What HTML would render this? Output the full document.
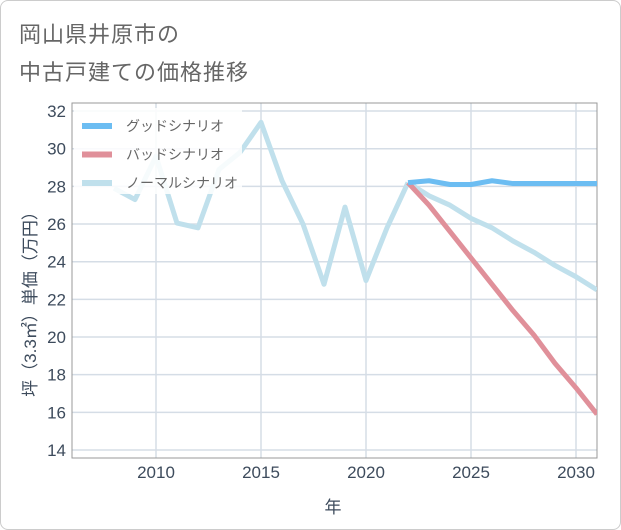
<!DOCTYPE html>
<html><head><meta charset="utf-8"><style>
body{margin:0;background:#fff;}
#wrap{position:relative;width:619px;height:528px;border:1px solid #ccc;border-radius:8px;overflow:hidden;background:#fff;font-family:"Liberation Sans","Noto Sans CJK JP",sans-serif;}
.title{position:absolute;left:18px;font-size:22px;color:#666;letter-spacing:1px;}
</style></head><body>
<div id="wrap">
<div class="title" style="top:16px">岡山県井原市の</div>
<div class="title" style="top:54px">中古戸建ての価格推移</div>
<svg id="chart" width="621" height="530" style="position:absolute;left:-1px;top:-1px"></svg>
</div>
<script>
const years=[2008,2009,2010,2011,2012,2013,2014,2015,2016,2017,2018,2019,2020,2021,2022];
const normalHist=[27.9,27.3,29.6,26.05,25.8,28.9,29.8,31.4,28.3,26,22.8,26.9,23,25.8,28.2];
const futureYears=[2022,2023,2024,2025,2026,2027,2028,2029,2030,2031];
const good=[28.2,28.3,28.1,28.1,28.3,28.15,28.15,28.15,28.15,28.15];
const bad=[28.2,27.0,25.6,24.2,22.8,21.4,20.1,18.6,17.3,15.9];
const normalFuture=[28.2,27.5,27.0,26.3,25.8,25.1,24.5,23.8,23.2,22.5];
const xTicks=[2010,2015,2020,2025,2030];
const yTicks=[14,16,18,20,22,24,26,28,30,32];
const NS='http://www.w3.org/2000/svg';
const svg=document.getElementById('chart');
const L=72,R=597,T=103,B=458;
const x=v=>156+(v-2010)*21;
const y=v=>450-(v-14)*18.83;
function mk(t,a){const e=document.createElementNS(NS,t);for(const k in a)e.setAttribute(k,a[k]);svg.appendChild(e);return e;}
const defs=mk('defs',{});
const cp=document.createElementNS(NS,'clipPath');cp.setAttribute('id','clip');
const cr=document.createElementNS(NS,'rect');cr.setAttribute('x',L);cr.setAttribute('y',T);cr.setAttribute('width',R-L);cr.setAttribute('height',B-T);
cp.appendChild(cr);defs.appendChild(cp);
yTicks.forEach(v=>{
 const g=mk('line',{x1:L,x2:R,y1:y(v),y2:y(v),stroke:'#d5dde6','stroke-width':1.5});
 
 
 const t=mk('text',{x:L-6,y:y(v)+6,'text-anchor':'end','font-size':17,fill:'#3d4b5c','font-family':'Liberation Sans, sans-serif'});
 t.textContent=v;
 
 
});
xTicks.forEach(v=>{
 const g=mk('line',{x1:x(v),x2:x(v),y1:T,y2:B,stroke:'#d5dde6','stroke-width':1.5});
 
 
 const t=mk('text',{x:x(v),y:B+20,'text-anchor':'middle','font-size':17,fill:'#3d4b5c','font-family':'Liberation Sans, sans-serif'});
 t.textContent=v;
 
 
});
const fr=mk('rect',{x:L,y:T,width:R-L,height:B-T,fill:'none',stroke:'#999','stroke-width':1});


function line(xs,vs,color,name){
 const p=mk('polyline',{points:xs.map((yr,i)=>x(yr)+','+y(vs[i])).join(' '),fill:'none',stroke:color,'stroke-width':5,'stroke-linejoin':'round','clip-path':'url(#clip)'});
 
 
}
line(years,normalHist,'#c0e0ec','normal-history-line');
line(futureYears,normalFuture,'#c0e0ec','normal-scenario-line');
line(futureYears,bad,'#e0909a','bad-scenario-line');
line(futureYears,good,'#6cbdf2','good-scenario-line');
const lb=mk('rect',{x:74,y:108,width:168,height:86,fill:'#fff','fill-opacity':0.85});


const leg=[['グッドシナリオ','#6cbdf2'],['バッドシナリオ','#e0909a'],['ノーマルシナリオ','#c0e0ec']];
leg.forEach((l,i)=>{
 const yy=126+i*28.5;
 const s=mk('rect',{x:82,y:yy-3,width:30,height:6,fill:l[1]});
 
 
 const t=mk('text',{x:126,y:yy+5,'font-size':14,fill:'#666','font-family':'Liberation Sans, Noto Sans CJK JP, sans-serif'});
 t.textContent=l[0];
 
 
});
const xt=mk('text',{x:333,y:513,'text-anchor':'middle','font-size':17,fill:'#3d4b5c','font-family':'Liberation Sans, Noto Sans CJK JP, sans-serif'});
xt.textContent='年';


const yt=mk('text',{x:0,y:0,'text-anchor':'middle','font-size':17,fill:'#3d4b5c',transform:'translate(36,300) rotate(-90)','font-family':'Liberation Sans, Noto Sans CJK JP, sans-serif'});
yt.textContent='坪（3.3㎡）単価（万円）';


</script>
</body></html>
